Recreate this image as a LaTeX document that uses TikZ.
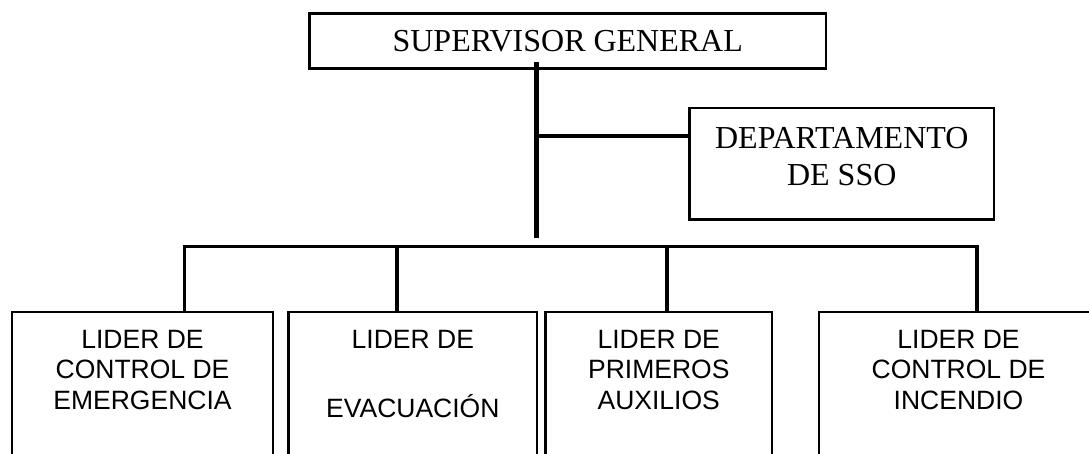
\documentclass[tikz,border=0pt]{standalone}
\usepackage{fontspec}
\setmainfont{Liberation Serif}
\newfontfamily\arialf{Liberation Sans}
\begin{document}
\begin{tikzpicture}[x=1pt,y=-1pt,
  box/.style={draw=black, line width=2.8pt, rectangle, inner sep=0pt, outer sep=0pt},
  conn/.style={draw=black, line width=3.3pt, line cap=butt, line join=miter},
  serif/.style={font=\fontsize{32}{37}\selectfont, align=center, inner sep=0pt},
  sans/.style={font=\arialf\fontsize{26.5}{30.5}\selectfont, align=center, inner sep=0pt, anchor=north}]
\useasboundingbox (0,0) rectangle (1089,454);
\clip (0,0) rectangle (1089,454);

% top boxes
\node[box, minimum width=516.5pt, minimum height=55pt, font=\fontsize{32}{37}\selectfont] (sup) at (567.75,40.8) {SUPERVISOR GENERAL};
\node[box, minimum width=304.5pt, minimum height=111.5pt] (dep) at (841.75,163.75) {};
\node[serif, anchor=north] (deptxt) at (841.75,126.8) {DEPARTAMENTO\\DE SSO};

% bottom boxes (cut off by the page edge)
\node[box, minimum width=261pt, minimum height=168pt] (b1) at (142.5,396) {};
\node[box, minimum width=248.3pt, minimum height=168pt] (b2) at (412.85,396) {};
\node[box, minimum width=226.5pt, minimum height=168pt] (b3) at (658.75,396) {};
\node[box, minimum width=279pt, minimum height=168pt] (b4) at (958.5,396) {};

\node[sans] (t1) at (142.5,330) {LIDER DE\\CONTROL DE\\EMERGENCIA};
\node[sans] (t2) at (412.85,330) {LIDER DE\\[38.5pt]EVACUACIÓN};
\node[sans] (t3) at (658.75,330) {LIDER DE\\PRIMEROS\\AUXILIOS};
\node[sans] (t4) at (958.5,330) {LIDER DE\\CONTROL DE\\INCENDIO};

% connectors
\coordinate (vtop) at (536,62);
\coordinate (vbot) at (536,238);
\coordinate (br) at (536,136);
\coordinate (c1) at (184.3,246.7);
\coordinate (c2) at (397,246.7);
\coordinate (c3) at (667,246.7);
\coordinate (c4) at (977,246.7);

\draw[conn, line width=5pt] (vtop) -- (vbot);
\draw[conn] (br) -- (br -| dep.west);
\draw[conn] (c1 |- b1.north) -- (c1) -- (c4) -- (c4 |- b4.north);
\draw[conn] (c2) -- (c2 |- b2.north);
\draw[conn, line width=4.5pt] (c3) -- (c3 |- b3.north);
\end{tikzpicture}
\end{document}
